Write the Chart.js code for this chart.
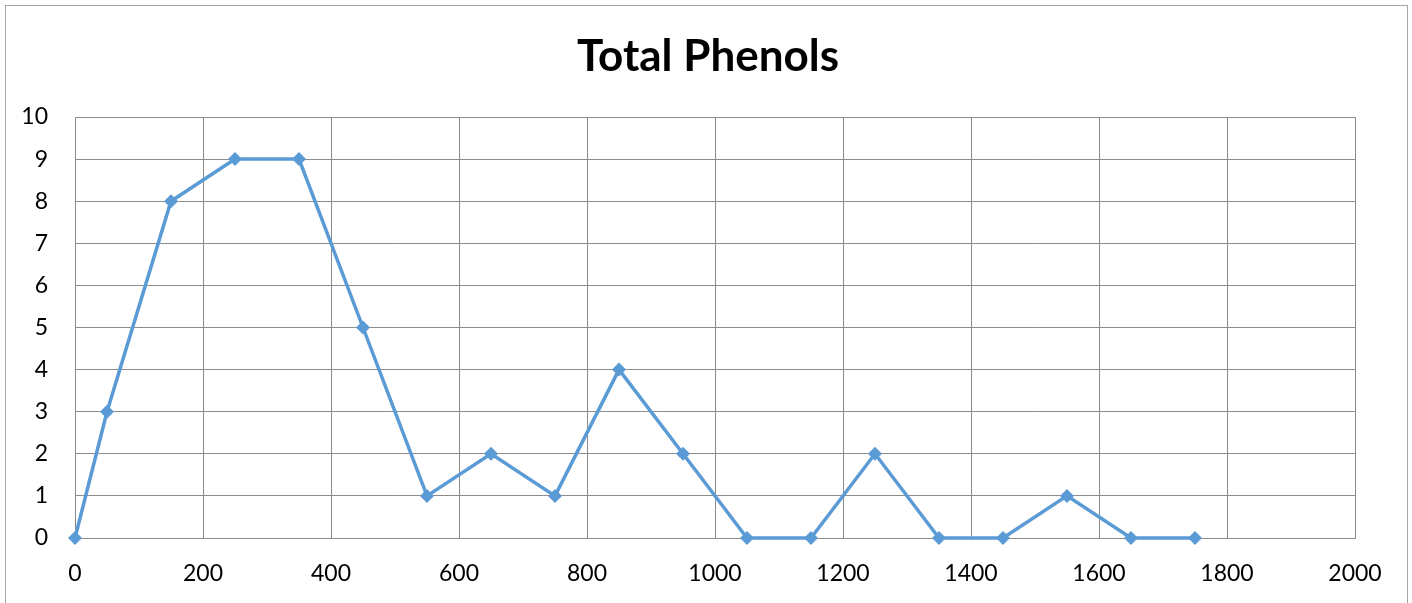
<!DOCTYPE html>
<html>
<head>
<meta charset="utf-8">
<script src="https://cdn.jsdelivr.net/npm/chart.js@4"></script>
<style>
  html, body { margin: 0; padding: 0; background: #fff; overflow: hidden; }
  #wrap { position: relative; width: 1412px; height: 603px; }
  #frame { position: absolute; left: 5px; top: 5px; width: 1403px; height: 700px; border: 1px solid #a6a6a6; box-sizing: border-box; }
  canvas { position: absolute; left: 0; top: 0; }
</style>
</head>
<body>
<div id="wrap">
  <div id="frame"></div>
  <canvas id="chart" width="1412" height="603"></canvas>
</div>
<script>
// Total Phenols
const titleText = 'Total Phenols';
const xValues = [0, 50, 150, 250, 350, 450, 550, 650, 750, 850, 950, 1050, 1150, 1250, 1350, 1450, 1550, 1650, 1750];
const phenols = [0, 3, 8, 9, 9, 5, 1, 2, 1, 4, 2, 0, 0, 2, 0, 0, 1, 0, 0];

const points = xValues.map((x, i) => ({ x: x, y: phenols[i] }));
const lineColor = '#5b9bd5';
const gridColor = '#8c8c8c';

// title sits over the whole frame, not only the plot area
const frameTitle = {
    id: 'frameTitle',
    afterDraw(chart) {
        const c = chart.ctx;
        c.save();
        c.font = 'bold 44px Lato';
        c.fillStyle = '#000';
        c.textAlign = 'center';
        c.textBaseline = 'middle';
        c.fillText(titleText, 708, 57);
        c.restore();
    }
};

const ctx = document.getElementById('chart').getContext('2d');
new Chart(ctx, {
    type: 'line',
    data: {
        datasets: [{
            label: titleText,
            data: points,
            borderColor: lineColor,
            backgroundColor: lineColor,
            borderWidth: 3.5,
            pointStyle: 'rectRot',
            pointRadius: 7,
            pointBorderWidth: 0,
            tension: 0,
            clip: false
        }]
    },
    options: {
        responsive: false,
        animation: false,
        layout: { padding: { left: 0, right: 57, top: 117, bottom: 0 } },
        plugins: {
            legend: { display: false },
            tooltip: { enabled: false },
            title: { display: false }
        },
        scales: {
            x: {
                type: 'linear',
                min: 0,
                max: 2000,
                ticks: {
                    stepSize: 200, color: '#000', padding: 22,
                    font: { family: 'Lato', size: 23 },
                    callback: v => String(v)
                },
                grid: { color: gridColor, drawTicks: false },
                border: { color: gridColor },
                afterFit: s => { s.height = 65; }
            },
            y: {
                min: 0,
                max: 10,
                ticks: { stepSize: 1, color: '#000', padding: 27, font: { family: 'Lato', size: 23 } },
                grid: { color: gridColor, drawTicks: false },
                border: { color: gridColor },
                afterFit: s => { s.width = 75; }
            }
        }
    },
    plugins: [frameTitle]
});
</script>
</body>
</html>
